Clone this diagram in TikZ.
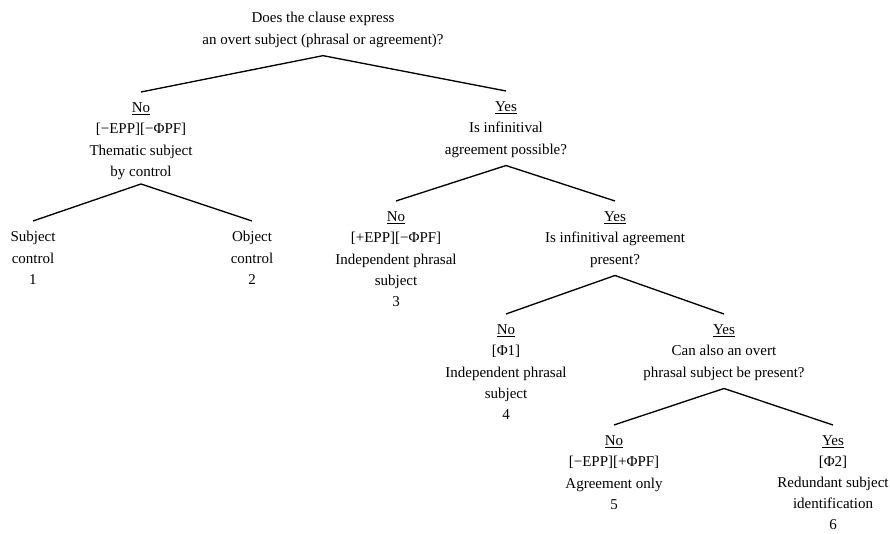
\documentclass[tikz,border=0pt]{standalone}
\usepackage{fontspec}
\setmainfont{Liberation Serif}
\begin{document}
\begin{tikzpicture}[x=0.75pt,y=-0.75pt,
  lbl/.style={align=center,anchor=north,inner sep=0pt,font=\fontsize{11.25}{16.1}\selectfont},
  br/.style={line width=1pt}]
\useasboundingbox (0,0) rectangle (890,534);
\node[lbl] (R) at (323,12) {Does the clause express\\an overt subject (phrasal or agreement)?};
\node[lbl] (A) at (141,102) {\underline{No}\\{[}−EPP{]}{[}−ΦPF{]}\\Thematic subject\\by control};
\node[lbl] (A1) at (33,231) {Subject\\control\\1};
\node[lbl] (A2) at (252,231) {Object\\control\\2};
\node[lbl] (B) at (506,101) {\underline{Yes}\\Is infinitival\\agreement possible?};
\node[lbl] (B1) at (396,211) {\underline{No}\\{[}+EPP{]}{[}−ΦPF{]}\\Independent phrasal\\subject\\3};
\node[lbl] (B2) at (615,211) {\underline{Yes}\\Is infinitival agreement\\present?};
\node[lbl] (C1) at (506,324) {\underline{No}\\{[}Φ1{]}\\Independent phrasal\\subject\\4};
\node[lbl] (C2) at (724,324) {\underline{Yes}\\Can also an overt\\phrasal subject be present?};
\node[lbl] (D1) at (614,435) {\underline{No}\\{[}−EPP{]}{[}+ΦPF{]}\\Agreement only\\5};
\node[lbl,font=\fontsize{11.25}{15.8}\selectfont] (D2) at (833,435) {\underline{Yes}\\{[}Φ2{]}\\Redundant subject\\identification\\6};
\foreach \p/\c/\g in {R/A/6,R/B/6,A/A1/3,A/A2/3,B/B1/6,B/B2/6,B2/C1/6,B2/C2/6,C2/D1/6,C2/D2/6}
  \draw[br] ([yshift=-\g pt]\p.south) -- ([yshift=7.5pt]\c.north);
\end{tikzpicture}
\end{document}
